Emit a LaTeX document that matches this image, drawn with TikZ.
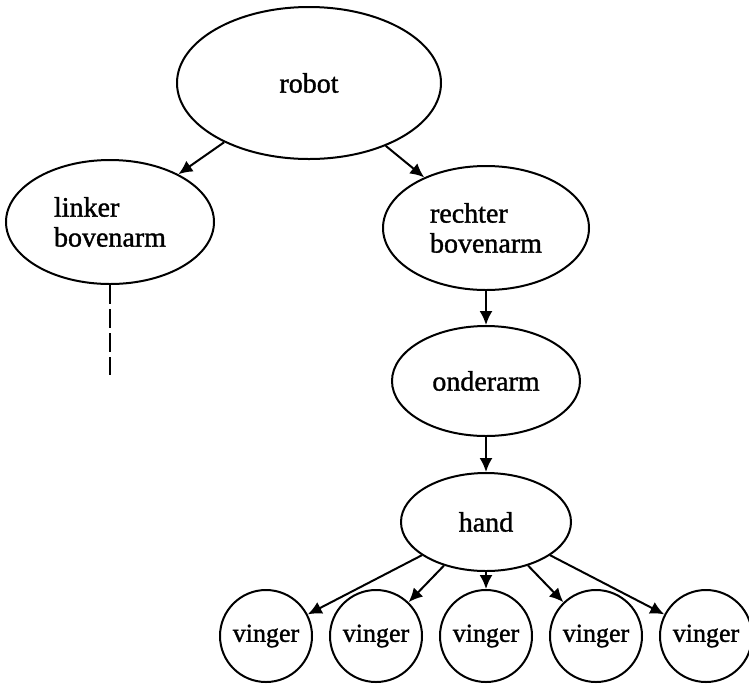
\documentclass[tikz,border=0pt]{standalone}
\usepackage{fontspec}
\setmainfont{Liberation Serif}
\newfontfamily\scanfont[FakeBold=1.2]{Liberation Serif}
\usetikzlibrary{trees,shapes.geometric,arrows.meta}

\begin{document}
\begin{tikzpicture}[x=1pt, y=-1pt, line width=2pt,
  deel/.style={draw, ellipse, inner sep=0pt, align=left, font=\scanfont\fontsize{28}{30}\selectfont},
  vinger/.style={draw, circle, inner sep=0pt, minimum size=92pt, font=\scanfont\fontsize{26}{30}\selectfont},
  edge from parent/.style={draw, -{Latex[length=14pt,width=13pt]}},
  level 1/.style={grow via three points={one child at (0,140) and two children at (-199,139) and (177,145)}},
  level 2/.style={grow=down, level distance=153pt},
  level 3/.style={level distance=141pt},
  level 4/.style={sibling distance=110pt, level distance=114pt}]
\useasboundingbox (0,0) rectangle (749,689);
\node[deel, minimum width=264pt, minimum height=152pt] (robot) at (309,83) {robot}
    child { node[deel, minimum width=208pt, minimum height=124pt] (linker) {linker\\bovenarm}
        child { coordinate (linkereind) edge from parent[dash pattern=on 19pt off 5pt, -] }
        }
    child { node[deel, minimum width=206pt, minimum height=124pt] (rechter) {rechter\\bovenarm}
        child { node[deel, minimum width=188pt, minimum height=110pt] (onderarm) {onderarm}
            child { node[deel, minimum width=170pt, minimum height=98pt] (hand) {hand}
                child { node[vinger] (vinger1) {vinger} }
                child { node[vinger] (vinger2) {vinger} }
                child { node[vinger] (vinger3) {vinger} }
                child { node[vinger] (vinger4) {vinger} }
                child { node[vinger] (vinger5) {vinger} }
                }
            }
        }
;
\end{tikzpicture}
\end{document}
